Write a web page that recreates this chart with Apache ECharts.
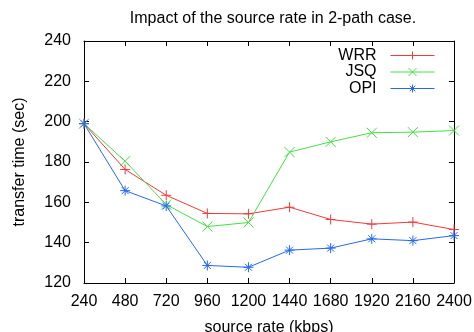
<!DOCTYPE html>
<html><head><meta charset="utf-8">
<script src="https://cdn.jsdelivr.net/npm/echarts@6/dist/echarts.min.js"></script>
<style>html,body{margin:0;padding:0;background:#fff}#c{width:474px;height:332px}</style>
</head><body><div id="c"></div>
<script>
var rates = [240, 480, 720, 960, 1200, 1440, 1680, 1920, 2160, 2400];
var wrr = [199, 176.3, 163.5, 154.5, 154.3, 157.6, 151.5, 149.2, 150.2, 146.5];
var jsq = [199, 180.4, 158.9, 148, 150, 184.9, 190, 194.5, 194.8, 195.6];
var opi = [199, 165.8, 158.2, 128.7, 127.8, 136.3, 137.3, 141.9, 141.0, 143.5];
var seriesNames = ['WRR', 'JSQ', 'OPI'];
var colors = ['#f23a3a', '#44e044', '#2468f4'];
var symbols = [
  'path://M5 0 L5 10 M0 5 L10 5',
  'path://M0 0 L10 10 M10 0 L0 10',
  'path://M5 0 L5 10 M0 5 L10 5 M1.5 1.5 L8.5 8.5 M8.5 1.5 L1.5 8.5'
];
var values = [wrr, jsq, opi];
var font = 'Liberation Sans, Arial, sans-serif';
var chart = echarts.init(document.getElementById('c'));
var series = seriesNames.map(function (n, i) {
  return {
    name: n, type: 'line',
    data: rates.map(function (r, k) { return [r, values[i][k]]; }),
    symbol: symbols[i], symbolSize: 10,
    lineStyle: { color: colors[i], width: 1 },
    itemStyle: { color: 'rgba(0,0,0,0)', borderColor: colors[i], borderWidth: 1 },
    emphasis: { disabled: true },
    animation: false
  };
});
var legendTops = [47.5, 64, 80.5];
var legends = seriesNames.map(function (n, i) {
  return {
    data: [n], right: 39, top: legendTops[i],
    align: 'right', itemWidth: 44, itemHeight: 10, itemGap: 0,
    lineStyle: { width: 1 },
    itemStyle: { color: 'rgba(0,0,0,0)', borderColor: colors[i], borderWidth: 1 },
    textStyle: { fontFamily: font, fontSize: 16, color: '#000', padding: [0, 9, 0, 0] },
    selectedMode: false, padding: 0
  };
});
chart.setOption({
  animation: false,
  title: { text: 'Impact of the source rate in 2-path case.', left: 268, textAlign: 'center', top: 6,
    textStyle: { fontFamily: font, fontSize: 16, fontWeight: 'normal', color: '#000' } },
  legend: legends,
  grid: { left: 84, right: 20, top: 41, bottom: 49, containLabel: false, outerBoundsMode: 'none' },
  xAxis: [{
    type: 'value', min: 240, max: 2400, interval: 240,
    name: 'source rate (kbps)', nameLocation: 'middle', nameGap: 37,
    nameTextStyle: { fontFamily: font, fontSize: 16, color: '#000' },
    axisLine: { lineStyle: { color: '#000', width: 1 } },
    axisTick: { inside: true, length: 5, lineStyle: { color: '#000' } },
    axisLabel: { fontFamily: font, fontSize: 16, color: '#000', margin: 11,
      formatter: function (v) { return String(v); } },
    splitLine: { show: false }
  }, {
    type: 'value', position: 'top', min: 240, max: 2400, interval: 240,
    axisLine: { lineStyle: { color: '#000', width: 1 } },
    axisTick: { inside: true, length: 5, lineStyle: { color: '#000' } },
    axisLabel: { show: false }, splitLine: { show: false }
  }],
  yAxis: [{
    type: 'value', min: 120, max: 240, interval: 20,
    name: 'transfer time (sec)', nameLocation: 'middle', nameGap: 56, nameRotate: 90,
    nameTextStyle: { fontFamily: font, fontSize: 16, color: '#000' },
    axisLine: { show: true, lineStyle: { color: '#000', width: 1 } },
    axisTick: { show: true, inside: true, length: 5, lineStyle: { color: '#000' } },
    axisLabel: { fontFamily: font, fontSize: 16, color: '#000', margin: 13 },
    splitLine: { show: false }
  }, {
    type: 'value', position: 'right', min: 120, max: 240, interval: 20,
    axisLine: { show: true, lineStyle: { color: '#000', width: 1 } },
    axisTick: { show: true, inside: true, length: 5, lineStyle: { color: '#000' } },
    axisLabel: { show: false }, splitLine: { show: false }
  }],
  series: series
});
</script></body></html>
